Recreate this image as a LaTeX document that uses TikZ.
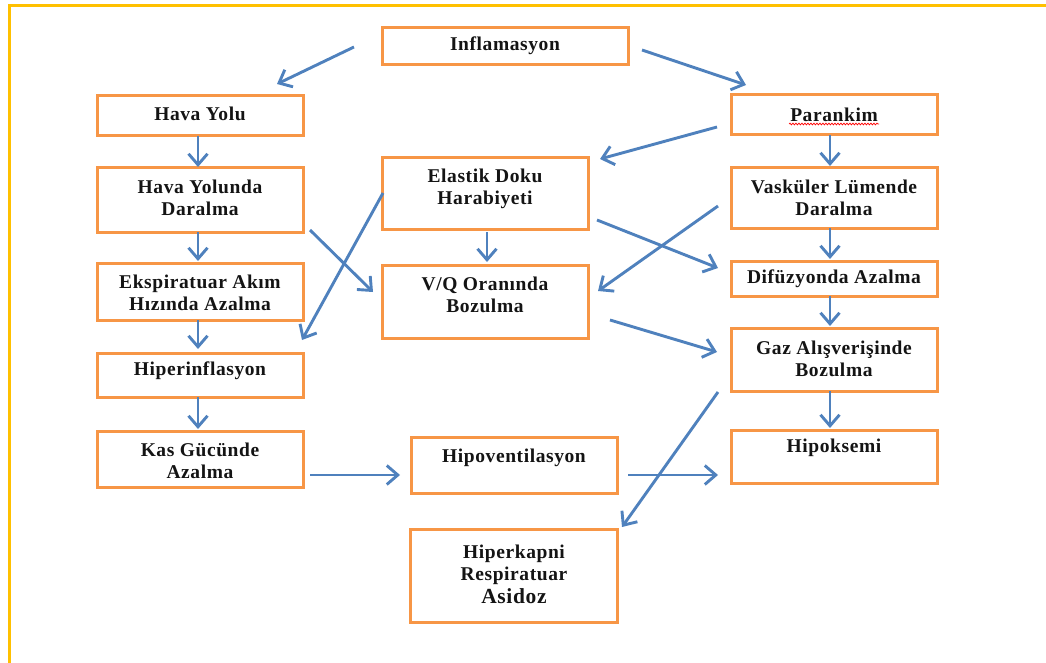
\documentclass[tikz,border=0pt]{standalone}
\usepackage{fontspec}
\setmainfont{Liberation Serif}[LetterSpace=3]
\usetikzlibrary{arrows.meta,decorations.pathmorphing}
\definecolor{frameyellow}{HTML}{FFC000}
\definecolor{boxorange}{HTML}{F79646}
\definecolor{arrowblue}{HTML}{4F81BD}
\definecolor{inkdark}{HTML}{141414}

% box given by its corners (x1,y1) and (x2,y2), y measured downwards
\newcommand{\flowbox}[5]{%
  \node[fbox, minimum width={(#4-#2)*1pt}, minimum height={(#5-#3)*1pt}]
    (#1) at ({(#2+#4)/2},{(#3+#5)/2}) {};}

\begin{document}
\begin{tikzpicture}[x=1pt, y=-1pt,
  fbox/.style={draw=boxorange, line width=3pt, fill=white, inner sep=0pt, outer sep=0pt},
  lbl/.style={font=\fontsize{19.5}{22.5}\selectfont\bfseries, text=inkdark, align=center, inner sep=0pt},
  arr/.style={draw=arrowblue, line width=2.9pt,
    -{Straight Barb[length=11pt, width=19pt, line width=2.9pt]}},
  frame/.style={draw=frameyellow, line width=3pt}]

\useasboundingbox (0,0) rectangle (1046,663);

% outer frame (left and top edges)
\coordinate (fr-bl) at (9,663);
\coordinate (fr-tl) at (9,6);
\coordinate (fr-tr) at (1046,6);
\draw[frame] (fr-bl) -- (fr-tl) -- (fr-tr);

% boxes
\flowbox{inf}{382}{28}{628}{65}
\flowbox{hy}{97}{96}{303}{136}
\flowbox{par}{731}{95}{937}{135}
\flowbox{hyd}{97}{168}{303}{232}
\flowbox{eld}{382}{158}{588}{229}
\flowbox{vas}{731}{168}{937}{228}
\flowbox{eks}{97}{263}{303}{320}
\flowbox{vq}{382}{265}{588}{338}
\flowbox{dif}{731}{261}{937}{296}
\flowbox{hip}{97}{353}{303}{397}
\flowbox{gaz}{731}{328}{937}{391}
\flowbox{kas}{97}{431}{303}{487}
\flowbox{hpv}{411}{437}{617}{493}
\flowbox{hpk}{731}{430}{937}{483}
\flowbox{hkp}{410}{529}{617}{622}

% labels
\node[lbl] (inf-t) at (505,46) {Inflamasyon};
\node[lbl] (hy-t) at (200,114) {Hava Yolu};
\node[lbl] (par-t) at (834,115) {Parankim};
\node[lbl] (hyd-t) at (200,198) {Hava Yolunda\\Daralma};
\node[lbl] (eld-t) at (485,189) {Elastik Doku\\Harabiyeti};
\node[lbl] (vas-t) at (834,198) {Vasküler Lümende\\Daralma};
\node[lbl] (eks-t) at (200,293) {Ekspiratuar Akım\\Hızında Azalma};
\node[lbl] (vq-t) at (485,295) {V/Q Oranında\\Bozulma};
\node[lbl] (dif-t) at (834,279) {Difüzyonda Azalma};
\node[lbl] (hip-t) at (200,371) {Hiperinflasyon};
\node[lbl] (gaz-t) at (834,359) {Gaz Alışverişinde\\Bozulma};
\node[lbl] (kas-t) at (200,461) {Kas Gücünde\\Azalma};
\node[lbl] (hpv-t) at (514,458) {Hipoventilasyon};
\node[lbl] (hpk-t) at (834,448) {Hipoksemi};
\node[lbl] (hkp-t) at (514,574) {Hiperkapni\\Respiratuar\\{\fontsize{21.5}{24}\selectfont Asidoz}};

% wavy spelling underline under "Parankim"
\coordinate (wv-a) at (789,124);
\coordinate (wv-b) at (879,124);
\draw[red, line width=0.7pt, decorate,
  decoration={snake, amplitude=0.9pt, segment length=3pt}] (wv-a) -- (wv-b);

% vertical connectors
\draw[arr, shorten >=1pt] ([xshift=-2pt]hy.south) -- ([xshift=-2pt]hyd.north);
\draw[arr, shorten >=2pt] ([xshift=-2pt]hyd.south) -- ([xshift=-2pt]eks.north);
\draw[arr, shorten >=4pt] ([xshift=-2pt]eks.south) -- ([xshift=-2pt]hip.north);
\draw[arr, shorten >=2pt] ([xshift=-2pt]hip.south) -- ([xshift=-2pt]kas.north);
\draw[arr, shorten >=2pt] ([xshift=-4pt]par.south) -- ([xshift=-4pt]vas.north);
\draw[arr, shorten >=2pt] ([xshift=-4pt]vas.south) -- ([xshift=-4pt]dif.north);
\draw[arr, shorten >=2pt] ([xshift=-4pt]dif.south) -- ([xshift=-4pt]gaz.north);
\draw[arr, shorten >=2pt] ([xshift=-4pt]gaz.south) -- ([xshift=-4pt]hpk.north);
\draw[arr, shorten <=3pt, shorten >=3pt] ([xshift=2pt]eld.south) -- ([xshift=2pt]vq.north);

% free-standing diagonal and horizontal connectors
\coordinate (a1s) at (354,47);  \coordinate (a1e) at (277,84);
\coordinate (a2s) at (642,50);  \coordinate (a2e) at (746,85);
\coordinate (a3s) at (717,127); \coordinate (a3e) at (600,159);
\coordinate (a4s) at (310,230); \coordinate (a4e) at (373,292);
\coordinate (a5s) at (383,193); \coordinate (a5e) at (302,340);
\coordinate (a6s) at (597,220); \coordinate (a6e) at (718,268);
\coordinate (a7s) at (718,206); \coordinate (a7e) at (598,291);
\coordinate (a8s) at (610,320); \coordinate (a8e) at (717,352);
\coordinate (a9s) at (310,475); \coordinate (a9e) at (400,475);
\coordinate (a10s) at (628,475); \coordinate (a10e) at (718,475);
\coordinate (a11s) at (718,392); \coordinate (a11e) at (622,527);

\draw[arr] (a1s) -- (a1e);
\draw[arr] (a2s) -- (a2e);
\draw[arr] (a3s) -- (a3e);
\draw[arr] (a4s) -- (a4e);
\draw[arr] (a5s) -- (a5e);
\draw[arr] (a6s) -- (a6e);
\draw[arr] (a7s) -- (a7e);
\draw[arr] (a8s) -- (a8e);
\draw[arr] (a9s) -- (a9e);
\draw[arr] (a10s) -- (a10e);
\draw[arr] (a11s) -- (a11e);

\end{tikzpicture}
\end{document}
